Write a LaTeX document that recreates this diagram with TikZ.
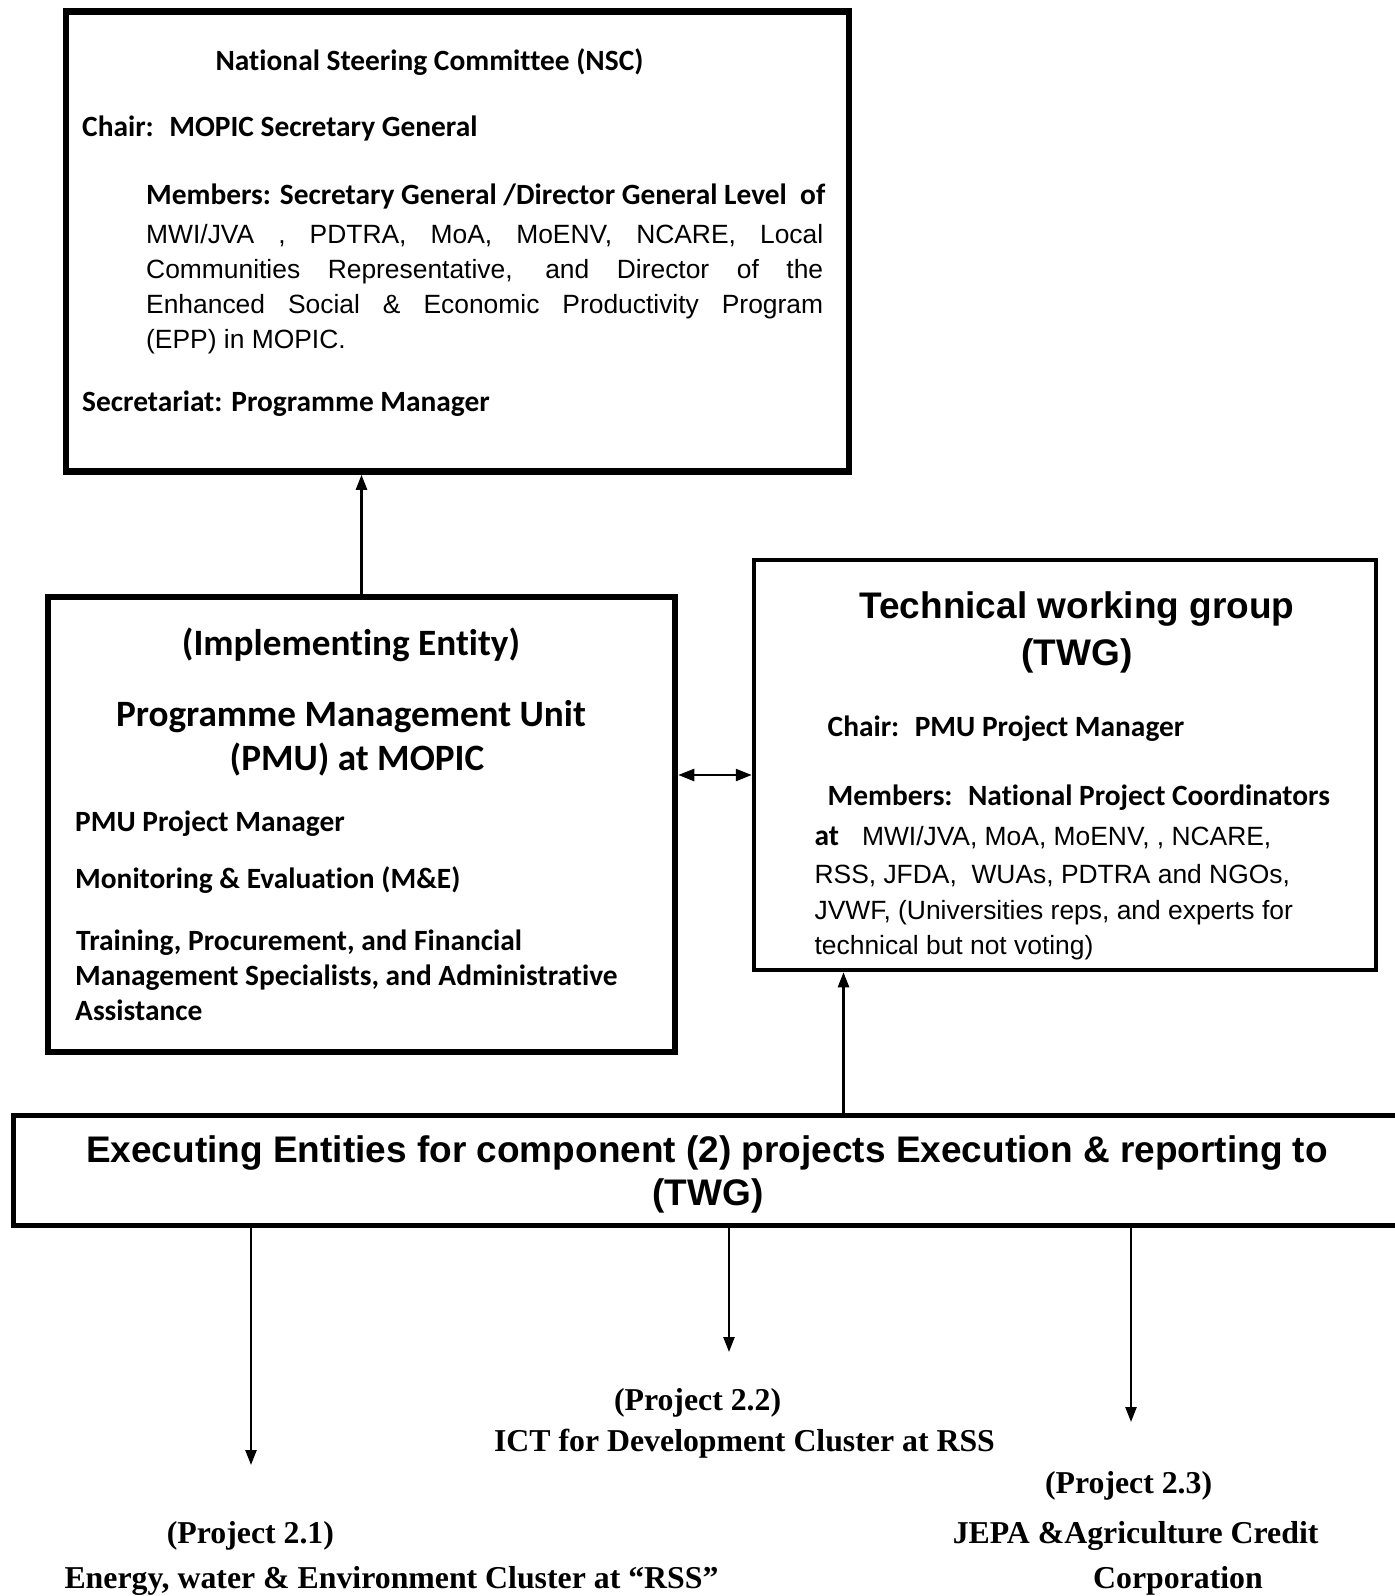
\documentclass[tikz,border=0pt]{standalone}
\usepackage{fontspec}
\newfontfamily\calfont[Ligatures=NoCommon]{Carlito}
\newfontfamily\arifont{Liberation Sans}
\newfontfamily\timfont{Liberation Serif}
\usetikzlibrary{arrows.meta}

\begin{document}
\begin{tikzpicture}[x=1pt,y=-1pt]
    \tikzset{%
      bigbox/.style={draw, line width=6.5pt, inner sep=0pt},
      twgbox/.style={draw, line width=4.5pt, inner sep=0pt},
      exebox/.style={draw, line width=5pt, inner sep=0pt},
      cal/.style={anchor=base west, inner sep=0pt,
        font=\calfont\bfseries\fontsize{29.4}{35}\selectfont},
      calhead/.style={anchor=base, inner sep=0pt,
        font=\calfont\bfseries\fontsize{37.2}{44}\selectfont},
      ari/.style={anchor=base west, inner sep=0pt,
        font=\arifont\fontsize{26.4}{35}\selectfont},
      arihead/.style={anchor=base, inner sep=0pt,
        font=\arifont\bfseries\fontsize{37}{44}\selectfont},
      tim/.style={anchor=base, inner sep=0pt,
        font=\timfont\bfseries\fontsize{31.8}{40}\selectfont},
      arr/.style={line width=2.4pt, -{Triangle[length=15pt,width=11pt]}},
      arrtwo/.style={line width=2.4pt,
        {Triangle[length=16pt,width=12pt]}-{Triangle[length=16pt,width=12pt]}},
    }
    \useasboundingbox (0,0) rectangle (1395,1596);

%NSC
    \node[bigbox, minimum width=783pt, minimum height=460pt] (NSC) at (457.5,241.5) {};
    \node[cal, anchor=base] (N0) at (429.5,70) {National Steering Committee (NSC)};
    \node[cal] (N1) at (82,136.7) {Chair: \ MOPIC Secretary General};
    \node[cal] (N2) at (146,204) {Members: Secretary General /Director General Level \ of};
    \node[ari] (N3) at (146,243) {\hbox to 677pt{MWI/JVA , PDTRA, MoA, MoENV, NCARE, Local}};
    \node[ari] (N4) at (146,278) {\hbox to 677pt{Communities Representative, and Director of the}};
    \node[ari] (N5) at (146,313) {\hbox to 677pt{Enhanced Social \& Economic Productivity Program}};
    \node[ari] (N6) at (146,348) {(EPP) in MOPIC.};
    \node[cal] (N7) at (82,411.5) {Secretariat: Programme Manager};

%PMU
    \node[bigbox, minimum width=627pt, minimum height=455pt] (PMU) at (361.5,824.5) {};
    \node[calhead] (P0) at (351,655) {(Implementing Entity)};
    \node[calhead] (P1) at (351,726.7) {Programme Management Unit};
    \node[calhead] (P2) at (357,770) {(PMU) at MOPIC};
    \node[cal] (P3) at (75,831.7) {PMU Project Manager};
    \node[cal] (P4) at (75,888.3) {Monitoring \& Evaluation (M\&E)};
    \node[cal] (P5) at (76,950) {Training, Procurement, and Financial};
    \node[cal] (P6) at (75,985) {Management Specialists, and Administrative};
    \node[cal] (P7) at (75,1020) {Assistance};

    \draw [arr] (PMU.north) -- (PMU.north |- NSC.south);

%TWG
    \node[twgbox, minimum width=622pt, minimum height=410pt] (TWG) at (1065,765) {};
    \node[arihead] (T0) at (1077,618.3) {Technical working group};
    \node[arihead] (T1) at (1077,665) {(TWG)};
    \node[cal] (T2) at (827.5,736.7) {Chair: \ PMU Project Manager};
    \node[cal] (T3) at (827.5,805) {Members: \ National Project Coordinators};
    \node[ari] (T4) at (814.4,845) {{\calfont\bfseries\fontsize{29.4}{35}\selectfont at}\hspace{23pt}MWI/JVA, MoA, MoENV, , NCARE,};
    \node[ari] (T5) at (814.4,883.5) {RSS, JFDA, \ WUAs, PDTRA and NGOs,};
    \node[ari] (T6) at (814.4,919.5) {JVWF, (Universities reps, and experts for};
    \node[ari] (T7) at (814.4,954.5) {technical but not voting)};

    \coordinate (M) at ([yshift=-10pt]TWG.west);
    \draw [arrtwo] (PMU.east |- M) -- (M);

%executing entities
    \node[exebox, minimum width=1388pt, minimum height=110pt] (EXE) at (707,1170.5) {};
    \node[arihead] (E0) at (707,1162.5) {Executing Entities for component (2) projects Execution \& reporting to};
    \node[arihead] (E1) at (708,1205.5) {(TWG)};

    \coordinate (U) at ([xshift=-221.5pt]TWG.south);
    \draw [arr] (EXE.north -| U) -- (U);

%projects
    \coordinate (C1) at (251,1465);
    \coordinate (C2) at (729,1352);
    \coordinate (C3) at (1131,1422);
    \draw [arr] (EXE.south -| C1) -- (C1);
    \draw [arr] (EXE.south -| C2) -- (C2);
    \draw [arr] (EXE.south -| C3) -- (C3);

    \node[tim] (R2a) at (697.6,1410) {(Project 2.2)};
    \node[tim] (R2b) at (744.5,1451.7) {ICT for Development Cluster at RSS};
    \node[tim] (R3a) at (1128.6,1493) {(Project 2.3)};
    \node[tim] (R3b) at (1135.6,1543) {JEPA \&Agriculture Credit};
    \node[tim] (R3c) at (1178,1588) {Corporation};
    \node[tim] (R1a) at (250.4,1543) {(Project 2.1)};
    \node[tim] (R1b) at (391.5,1588) {Energy, water \& Environment Cluster at “RSS”};
  \end{tikzpicture}
\end{document}
